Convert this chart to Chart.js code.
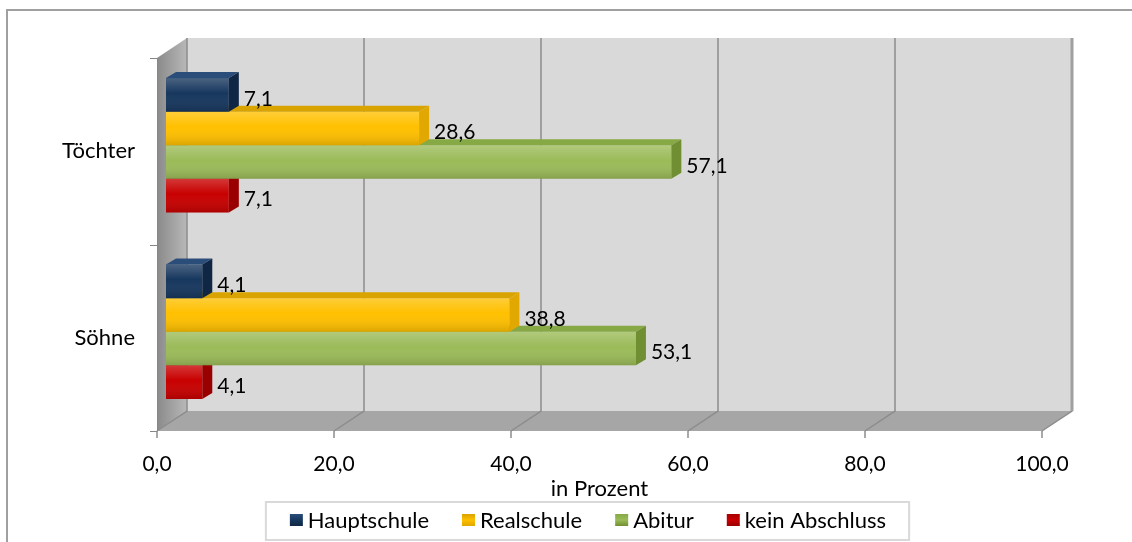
<!DOCTYPE html>
<html lang="de">
<head>
<meta charset="utf-8">
<title>Schulabschluss Töchter und Söhne</title>
<script src="https://cdn.jsdelivr.net/npm/chart.js@4.4.1/dist/chart.umd.min.js"></script>
<style>
  html, body { margin: 0; padding: 0; background: #fff; }
  #wrap { width: 1132px; height: 542px; }
</style>
</head>
<body>
<div id="wrap"><canvas id="chart" width="1132" height="542"></canvas></div>
<script>
/* ── Data ────────────────────────────────────────────────── */

const categories = ['Töchter', 'Söhne'];
const hauptschule = [7.1, 4.1];
const realschule = [28.6, 38.8];
const abitur = [57.1, 53.1];
const keinAbschluss = [7.1, 4.1];
const xTicks = [0, 20, 40, 60, 80, 100];

const seriesNames = ['Hauptschule', 'Realschule', 'Abitur', 'kein Abschluss'];
const seriesValues = [hauptschule, realschule, abitur, keinAbschluss];

/* ── Style ───────────────────────────────────────────────── */

const frontColors = ['#17375e', '#ffc000', '#9bbb59', '#c80000'];
const topColors = ['#2a4d7a', '#d9a300', '#86a845', '#a80000'];
const sideColors = ['#0f2744', '#e0a800', '#6f8f32', '#9a0000'];

const DEPTH_X = 30, DEPTH_Y = -20;   // back wall offset from the front plane
const BAR_X = 9, BAR_Y = -6;         // plane the bars sit in
const BEVEL_X = 10, BEVEL_Y = 6;     // bar thickness
const LEGEND_CX = 588;               // legend is centred a bit left of the plot

const fmt = v => Number(v).toFixed(1).replace('.', ',');

Chart.defaults.font.family = 'Lato, "Open Sans", sans-serif';
Chart.defaults.color = '#000';

/* ── Helpers ─────────────────────────────────────────────── */

function poly(ctx, pts, fill) {
  ctx.beginPath();
  ctx.moveTo(pts[0][0], pts[0][1]);
  for (let i = 1; i < pts.length; i++) ctx.lineTo(pts[i][0], pts[i][1]);
  ctx.closePath();
  ctx.fillStyle = fill;
  ctx.fill();
}

function drawWalls(chart) {
  const { ctx, chartArea: a, scales: { x, y } } = chart;
  const left = x.getPixelForValue(xTicks[0]);
  const right = x.getPixelForValue(xTicks[xTicks.length - 1]);
  ctx.save();

  // left side wall
  const g = ctx.createLinearGradient(left, 0, left + DEPTH_X, 0);
  g.addColorStop(0, '#8a8a8a');
  g.addColorStop(1, '#b8b8b8');
  poly(ctx, [[left, a.top], [left + DEPTH_X, a.top + DEPTH_Y],
    [left + DEPTH_X, a.bottom + DEPTH_Y], [left, a.bottom]], g);

  // back wall
  ctx.fillStyle = '#d9d9d9';
  ctx.fillRect(left + DEPTH_X, a.top + DEPTH_Y, right - left, a.bottom - a.top);

  // floor
  poly(ctx, [[left, a.bottom], [right, a.bottom],
    [right + DEPTH_X, a.bottom + DEPTH_Y], [left + DEPTH_X, a.bottom + DEPTH_Y]], '#a6a6a6');

  // gridlines over floor and back wall, tick marks below
  ctx.strokeStyle = '#8c8c8c';
  ctx.lineWidth = 1.5;
  xTicks.forEach(v => {
    const px = x.getPixelForValue(v);
    ctx.beginPath();
    ctx.moveTo(px, a.bottom);
    ctx.lineTo(px + DEPTH_X, a.bottom + DEPTH_Y);
    ctx.lineTo(px + DEPTH_X, a.top + DEPTH_Y);
    ctx.stroke();
    ctx.beginPath();
    ctx.moveTo(px, a.bottom);
    ctx.lineTo(px, a.bottom + 7);
    ctx.stroke();
  });

  // right edge of the back wall is a bit heavier
  ctx.strokeStyle = '#a0a0a0';
  ctx.lineWidth = 3;
  ctx.beginPath();
  ctx.moveTo(right + DEPTH_X, a.top + DEPTH_Y);
  ctx.lineTo(right + DEPTH_X, a.bottom + DEPTH_Y);
  ctx.stroke();

  // category axis with ticks between the groups
  ctx.strokeStyle = '#868686';
  ctx.lineWidth = 1;
  ctx.beginPath();
  ctx.moveTo(left + 0.5, a.top);
  ctx.lineTo(left + 0.5, a.bottom);
  const bounds = [a.top, a.bottom];
  for (let i = 1; i < categories.length; i++) {
    bounds.push((y.getPixelForValue(i - 1) + y.getPixelForValue(i)) / 2);
  }
  bounds.forEach(b => {
    ctx.moveTo(left - 7, Math.round(b) + 0.5);
    ctx.lineTo(left, Math.round(b) + 0.5);
  });
  ctx.stroke();
  ctx.restore();
}

function drawBarFaces(chart, meta) {
  const ctx = chart.ctx;
  const i = meta.index;
  meta.data.forEach(bar => {
    const { x: end, y, base, height } = bar.getProps(['x', 'y', 'base', 'height'], true);
    const top = y - height / 2, bottom = y + height / 2;

    // soft shading on the front face
    const g = ctx.createLinearGradient(0, top, 0, bottom);
    g.addColorStop(0, 'rgba(255,255,255,0.22)');
    g.addColorStop(0.45, 'rgba(255,255,255,0)');
    g.addColorStop(1, 'rgba(0,0,0,0.14)');
    ctx.fillStyle = g;
    ctx.fillRect(base, top, end - base, height);

    // top and right faces
    poly(ctx, [[base, top], [end, top], [end + BEVEL_X, top - BEVEL_Y], [base + BEVEL_X, top - BEVEL_Y]], topColors[i]);
    poly(ctx, [[end, top], [end + BEVEL_X, top - BEVEL_Y], [end + BEVEL_X, bottom - BEVEL_Y], [end, bottom]], sideColors[i]);
  });
}

function drawValueLabels(chart) {
  const ctx = chart.ctx;
  ctx.save();
  ctx.font = '21px Lato, "Open Sans", sans-serif';
  ctx.fillStyle = '#000';
  ctx.textAlign = 'left';
  ctx.textBaseline = 'middle';
  chart.getSortedVisibleDatasetMetas().forEach(meta => {
    const data = chart.data.datasets[meta.index].data;
    meta.data.forEach((bar, j) => {
      ctx.fillText(fmt(data[j]), bar.x + BAR_X + BEVEL_X + 5, bar.y + BAR_Y + 4);
    });
  });
  ctx.restore();
}

function drawLegend(chart) {
  const ctx = chart.ctx;
  const boxW = 13, boxH = 12, gap = 5, spacing = 33;
  const yMid = 520;
  ctx.save();
  ctx.font = '22px Lato, "Open Sans", sans-serif';
  const widths = seriesNames.map(n => ctx.measureText(n).width);
  const total = widths.reduce((s, w) => s + boxW + gap + w, 0) + spacing * (seriesNames.length - 1);
  let cx = LEGEND_CX - total / 2;

  // frame around the legend
  ctx.strokeStyle = '#d9d9d9';
  ctx.lineWidth = 2;
  ctx.strokeRect(cx - 24, 502, total + 47, 38);

  ctx.textAlign = 'left';
  ctx.textBaseline = 'middle';
  seriesNames.forEach((name, i) => {
    const g = ctx.createLinearGradient(0, yMid - boxH / 2, 0, yMid + boxH / 2);
    g.addColorStop(0, topColors[i]);
    g.addColorStop(0.5, frontColors[i]);
    g.addColorStop(1, sideColors[i]);
    ctx.fillStyle = g;
    ctx.fillRect(cx, yMid - boxH / 2, boxW, boxH);
    ctx.fillStyle = '#000';
    ctx.fillText(name, cx + boxW + gap, yMid + 1);
    cx += boxW + gap + widths[i] + spacing;
  });
  ctx.restore();
}

function drawFrame(chart) {
  const ctx = chart.ctx;
  ctx.save();
  ctx.strokeStyle = '#a0a0a0';
  ctx.lineWidth = 2;
  ctx.beginPath();
  ctx.moveTo(7, chart.height);
  ctx.lineTo(7, 10);
  ctx.lineTo(chart.width, 10);
  ctx.stroke();
  ctx.restore();
}

/* ── 3D look plugin ──────────────────────────────────────── */

const scene3d = {
  id: 'scene3d',
  beforeDatasetsDraw(chart) {
    drawWalls(chart);
  },
  beforeDatasetDraw(chart) {
    chart.ctx.save();
    chart.ctx.translate(BAR_X, BAR_Y);
  },
  afterDatasetDraw(chart, args) {
    drawBarFaces(chart, args.meta);
    chart.ctx.restore();
  },
  afterDatasetsDraw(chart) {
    drawValueLabels(chart);
  },
  afterDraw(chart) {
    drawLegend(chart);
    drawFrame(chart);
  },
};

/* ── Chart ───────────────────────────────────────────────── */

new Chart(document.getElementById('chart'), {
  type: 'bar',
  data: {
    labels: categories,
    datasets: seriesNames.map((name, i) => ({
      label: name,
      data: seriesValues[i],
      backgroundColor: frontColors[i],
      borderWidth: 0,
      clip: false,
    })),
  },
  options: {
    responsive: false,
    animation: false,
    indexAxis: 'y',
    layout: { padding: { left: 0, right: 90, top: 58, bottom: 40 } },
    datasets: { bar: { barPercentage: 1, categoryPercentage: 0.72 } },
    scales: {
      x: {
        min: xTicks[0],
        max: xTicks[xTicks.length - 1],
        grid: { display: false, drawTicks: false },
        border: { display: false },
        ticks: { stepSize: xTicks[1] - xTicks[0], padding: 21, font: { size: 21 }, callback: v => fmt(v) },
        title: { display: true, text: 'in Prozent', font: { size: 22 }, padding: 0 },
        afterFit(scale) { scale.height = 71; },
      },
      y: {
        grid: { display: false, drawTicks: false },
        border: { display: false },
        ticks: { padding: 22, font: { size: 22 } },
        afterFit(scale) { scale.width = 157; },
      },
    },
    plugins: {
      legend: { display: false },
      tooltip: { enabled: false },
    },
  },
  plugins: [scene3d],
});
</script>
</body>
</html>
